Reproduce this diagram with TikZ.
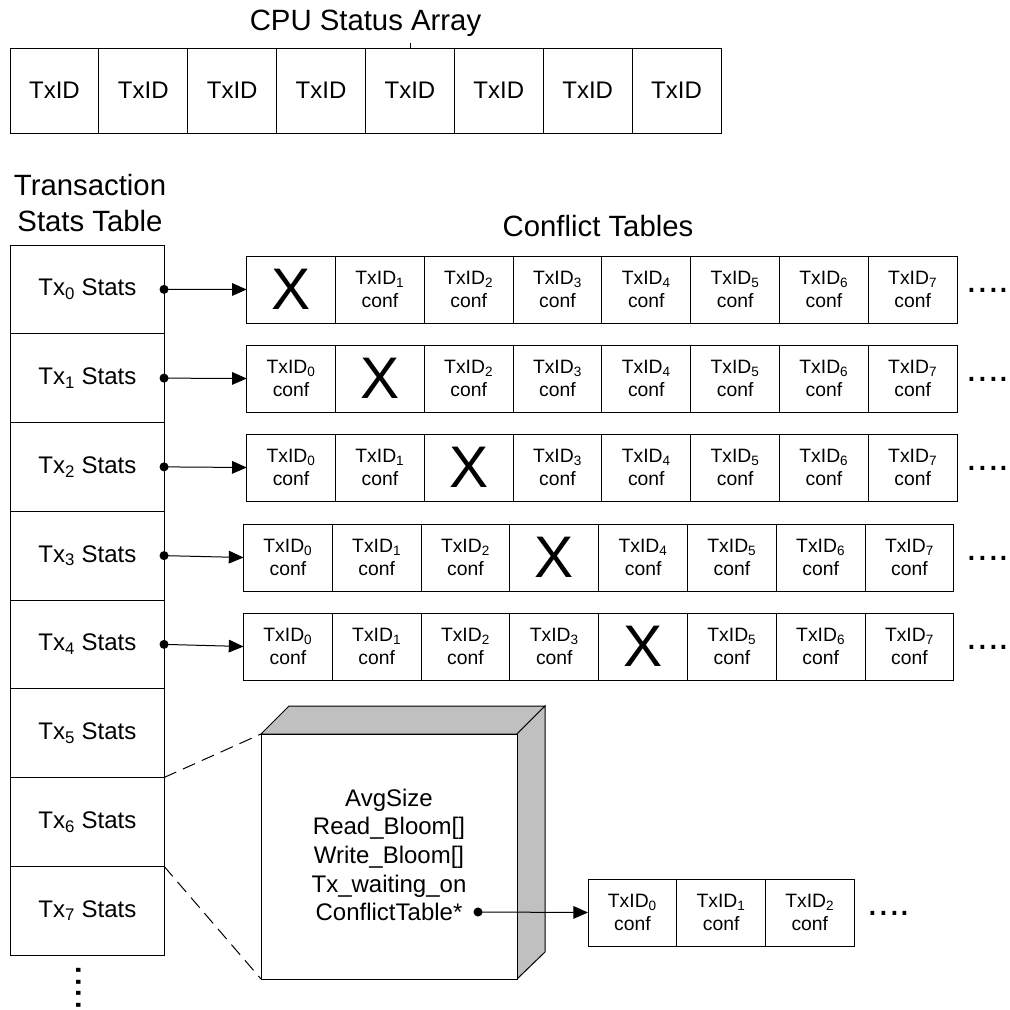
\documentclass[tikz,border=0pt]{standalone}
\usepackage{fontspec}
\setmainfont{Liberation Sans}
\usetikzlibrary{arrows.meta}
\newcommand\fsz[2]{\fontsize{#1}{#2}\selectfont}
\definecolor{boxgrey}{HTML}{C0C0C0}
\begin{document}
\begin{tikzpicture}[x=0.75pt,y=-0.75pt,line width=0.75pt,
  cpucell/.style={draw,minimum width=66.66pt,minimum height=63.75pt,inner sep=0pt,outer sep=0pt,anchor=north west,font=\fsz{18}{21}},
  statcell/.style={draw,minimum width=115pt,minimum height=66.56pt,inner sep=0pt,outer sep=0pt,anchor=north west,font=\fsz{18}{21}},
  confcell/.style={draw,minimum width=66.6pt,minimum height=50.25pt,inner sep=0pt,outer sep=0pt,anchor=north west,align=center,font=\fsz{14.5}{17.2}},
  xcell/.style={confcell,font=\fsz{44}{44}},
  heading/.style={font=\fsz{22}{26.6},inner sep=0pt,align=center},
  dotsrow/.style={font=\fsz{29}{30},inner sep=0pt,anchor=base west},
  vdotsrow/.style={font=\fsz{31.5}{32},inner sep=0pt,anchor=base west,rotate=-90},
  link/.style={-{Triangle[length=11pt,width=9.5pt]}},
  ptrdot/.style={fill=black},
  zoomline/.style={dashed,dash pattern=on 10pt off 5.5pt},
  ]
\useasboundingbox (0,0) rectangle (1010,1010);

% CPU status array
\node[heading,anchor=base] (cpu) at (365.5,30.7) {CPU Status Array};
\foreach \ci in {0,...,7}{
  \node[cpucell] (cpu\ci) at ({10+88.875*\ci},48) {TxID};
}
\draw[line width=0.5pt] (cpu4.north) -- ++(0,-5);

% Transaction stats table
\node[heading] (tst) at (90,203) {Transaction\\Stats Table};
\foreach \si in {0,...,7}{
  \node[statcell] (s\si) at (10.7,{245+88.75*\si}) {Tx\textsubscript{\si} Stats};
}
\node[vdotsrow] (vdots) at (76,964) {....};

% Conflict tables
\node[heading,anchor=base] (ctl) at (598,236) {Conflict Tables};
\foreach \ri/\lx/\ty in {0/246.7/256,1/246.7/345,2/246.7/434,3/243.5/524,4/243.5/613}{
  \foreach \ci in {0,...,7}{
    \ifnum\ci=\ri\relax
      \node[xcell] (r\ri c\ci) at ({\lx+88.8*\ci},\ty) {X};
    \else
      \node[confcell] (r\ri c\ci) at ({\lx+88.8*\ci},\ty) {TxID\textsubscript{\ci}\\conf};
    \fi
  }
  \node[dotsrow] (rd\ri) at (966,{\ty+36}) {....};
  \fill[ptrdot] (s\ri.east) circle[radius=3.4pt];
  \draw[link] (s\ri.east) -- (r\ri c0.west);
}

% 3D box
\coordinate (boxtl) at (261,734);
\coordinate (boxbl) at (261,979);
\draw[fill=boxgrey] (boxtl) -- (289,706) -- (545,706) -- (517,734) -- cycle;
\draw[fill=boxgrey] (517,734) -- (545,706) -- (545,952) -- (517,979) -- cycle;
\draw[fill=white] (boxtl) rectangle (517,979);
\node[font=\fsz{18}{21.5},align=center,inner sep=0pt] (info) at (389,855)
  {AvgSize\\Read\_Bloom[]\\Write\_Bloom[]\\Tx\_waiting\_on\\ConflictTable*};
\draw[zoomline] (s5.south east) -- (boxtl);
\draw[zoomline] (s6.south east) -- (boxbl);

% small table
\foreach \ci in {0,1,2}{
  \node[confcell] (t\ci) at ({588+88.7*\ci},879) {TxID\textsubscript{\ci}\\conf};
}
\node[dotsrow] (td) at (867,915.5) {....};
\coordinate (ptr) at (478,912);
\fill[ptrdot] (ptr) circle[radius=3.4pt];
\draw[link] (ptr) -- (t0.west);
\end{tikzpicture}
\end{document}
